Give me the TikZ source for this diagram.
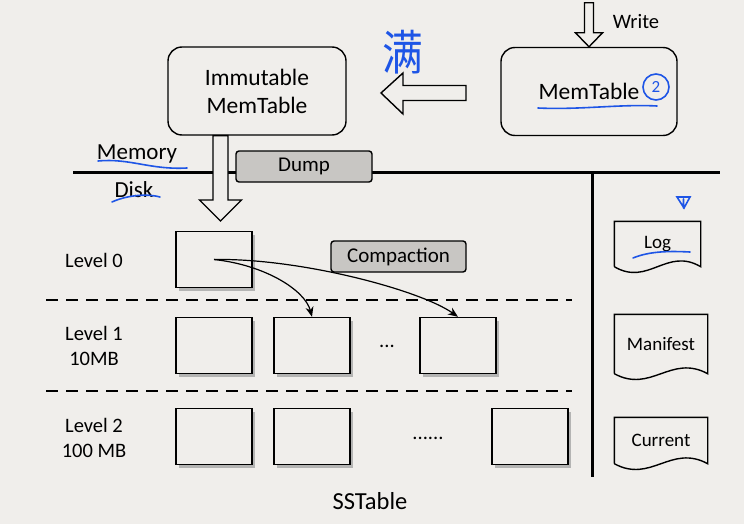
\documentclass[tikz,border=0pt]{standalone}
\usepackage{fontspec}
\setmainfont{Carlito}
\newfontfamily\cjk{Noto Sans CJK SC}
\usetikzlibrary{arrows.meta,shapes,shadows,positioning,calc}
\definecolor{bg}{RGB}{240,238,235}
\definecolor{boxgray}{RGB}{200,198,195}
\definecolor{pen}{RGB}{30,85,230}

\begin{document}
\begin{tikzpicture}[x=1pt,y=-1pt,line width=1.4pt,
    txt/.style={font=\fontsize{23.5}{28}\selectfont,align=center},
    small/.style={font=\fontsize{20.5}{25}\selectfont,align=center},
    rbox/.style={txt,draw,rounded corners=14pt,minimum width=#1,minimum height=88pt},
    gbox/.style={font=\fontsize{21}{25}\selectfont,draw,fill=boxgray,rounded corners=3pt,minimum width=#1,minimum height=31pt},
    sst/.style={draw,fill=bg,minimum width=76pt,minimum height=56pt,
      drop shadow={shadow xshift=3pt,shadow yshift=-3pt,fill=black!35,opacity=.8}},
    doc/.style={font=\fontsize{19}{23}\selectfont,minimum width=#1,inner sep=0pt},
    hand/.style={pen,line width=1.6pt,line cap=round},
    level/.style={dash pattern=on 12pt off 8pt,line width=1.5pt}]
  \useasboundingbox[fill=bg] (0,0) rectangle (744,524);

  % memtables
  \node[rbox=178pt] (imm) at (257,91) {Immutable\\MemTable};
  \node[rbox=176pt] (mem) at (589,91.5) {MemTable};
  \node[font=\fontsize{20.5}{25}\selectfont] (write) at (636,22) {Write};

  % write arrow
  \coordinate (wtip) at (mem.north);
  \draw[fill=bg] ($(wtip)+(-4.5,-44)$) -- ($(wtip)+(4.5,-44)$) -- ($(wtip)+(4.5,-14)$) -- ($(wtip)+(13.5,-14)$)
    -- (wtip) -- ($(wtip)+(-13.5,-14)$) -- ($(wtip)+(-4.5,-14)$) -- cycle;

  % mem -> imm arrow
  \coordinate (ltip) at (381,93);
  \draw[fill=bg] (ltip) -- ($(ltip)+(22,-20)$) -- ($(ltip)+(22,-7.5)$) -- ($(ltip)+(85,-7.5)$)
    -- ($(ltip)+(85,7.5)$) -- ($(ltip)+(22,7.5)$) -- ($(ltip)+(22,21)$) -- cycle;

  % memory / disk
  \node[font=\fontsize{23}{27}\selectfont] (memory) at (137,154) {Memory};
  \node[font=\fontsize{23}{27}\selectfont] (disk) at (134,190) {Disk};
  \draw[line width=3pt] (73,172) coordinate (hl) -- (720,172) coordinate (hr);
  \draw[line width=3pt] (592,172) coordinate (vt) -- (592,477) coordinate (vb);
  \node[gbox=136pt] (dump) at (304,166.5) {Dump};

  % dump arrow
  \coordinate (dtip) at (220.5,221);
  \coordinate (dtop) at (dtip |- imm.south);
  \draw[fill=bg] ($(dtop)+(-7.5,0)$) -- ($(dtop)+(7.5,0)$) -- ($(dtip)+(7.5,-21)$) -- ($(dtip)+(21,-21)$)
    -- (dtip) -- ($(dtip)+(-21,-21)$) -- ($(dtip)+(-7.5,-21)$) -- cycle;

  % levels
  \node[small] (lv0) at (94,260) {Level 0};
  \node[small] (lv1) at (94,345.5) {Level 1\\10MB};
  \node[small] (lv2) at (94,437.5) {Level 2\\100 MB};
  \draw[level] (46,300) -- (572,300);
  \draw[level] (46,391) -- (572,391);

  \node[sst] (l0) at (214,259.5) {};
  \foreach \n/\x in {1/214, 2/312, 3/458}
    \node[sst] (l1-\n) at (\x,345.5) {};
  \foreach \n/\x in {1/214, 2/312, 3/530}
    \node[sst] (l2-\n) at (\x,436.5) {};
  \node[small] at (387,346) {...};
  \node[small] at (428,438) {......};
  \node[gbox=135pt] (comp) at (398.5,256.5) {Compaction};

  \draw[-{Stealth[length=10pt,width=8pt]},line width=1.2pt] (l0.center) .. controls (265,265) and (305,290) .. (l1-2.north);
  \draw[-{Stealth[length=10pt,width=8pt]},line width=1.2pt] (l0.center) .. controls (300,258) and (420,290) .. (l1-3.north);

  \node[font=\fontsize{24.5}{28}\selectfont] (sstable) at (370,501) {SSTable};

  % files
  \foreach \nm/\t/\w/\x/\y/\h in {log/Log/85/657.5/244/44, man/Manifest/92/661/344/58, cur/Current/92/661/440.5/45}{
    \node[doc=\w pt,minimum height=\h pt] (\nm) at (\x,\y) {\t};
    \draw (\nm.south west) -- (\nm.north west) -- (\nm.north east) -- (\nm.south east)
      .. controls ++(-0.4*\w,-20) and ($(\nm.south west)+(0.4*\w,20)$) .. (\nm.south west);
  }

  % hand notes
  \draw[hand] (98,161) .. controls (130,158) and (150,170) .. (187,168);
  \draw[hand] (112,202) .. controls (125,196) and (145,193) .. (160,197);
  \draw[hand] (538,108) .. controls (580,110) and (620,104) .. (657,106);
  \draw[hand] (633,258) .. controls (650,251) and (670,251) .. (690,252);
  \node[hand,draw,circle,minimum size=26pt,inner sep=0pt,font=\fontsize{17}{17}\selectfont,text=pen] (two) at (656,87) {2};
  \draw[hand] (677,197) -- (690,197) -- (684,208) -- cycle (683.5,199) -- (683.5,208);
  \node[text=pen,font=\cjk\fontsize{48}{48}\selectfont,xscale=.85] (full) at (403,52) {满};
\end{tikzpicture}
\end{document}
